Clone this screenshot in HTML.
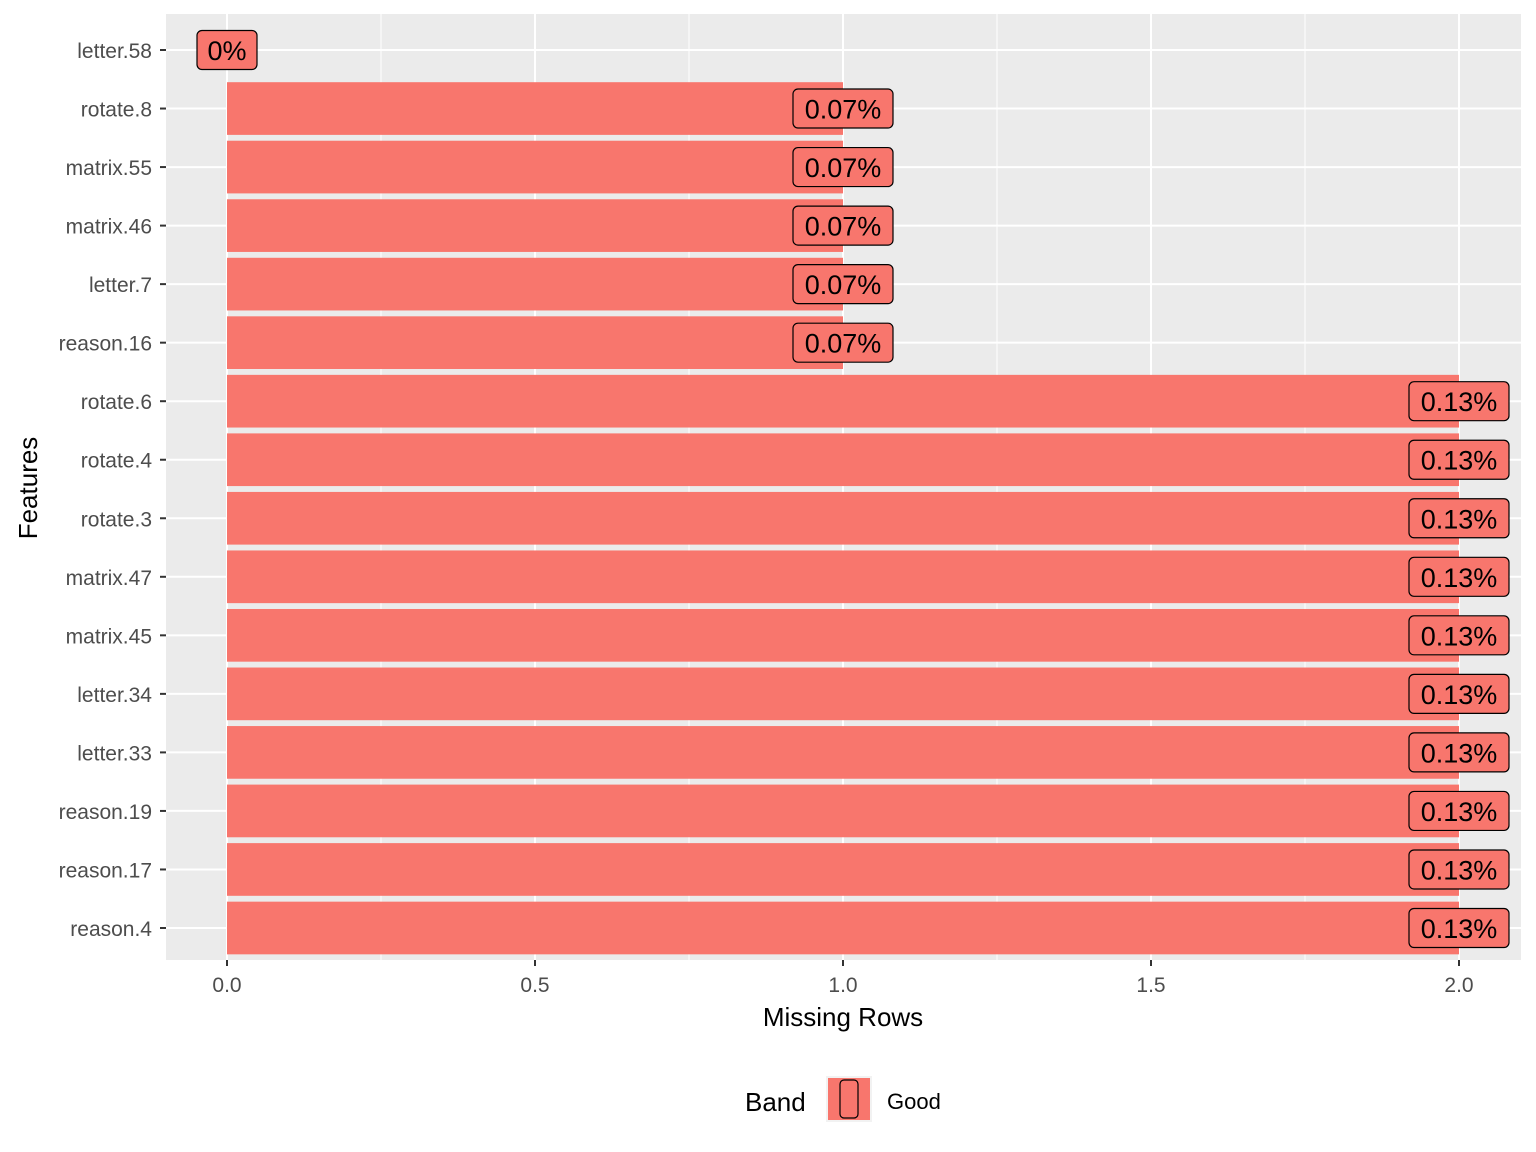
<!DOCTYPE html>
<html><head><meta charset="utf-8">
<style>
body{margin:0;background:#fff;}
svg{display:block;font-family:"Liberation Sans",Arial,sans-serif;}
</style></head>
<body>
<svg id="chart" width="1536" height="1152" viewBox="0 0 1536 1152" xmlns="http://www.w3.org/2000/svg">
<rect x="0" y="0" width="1536" height="1152" fill="#fff"/>
<rect x="166" y="14" width="1355" height="946" fill="#EBEBEB"/>
<g id="grid"></g>
<g id="bars"></g>
<g id="labels"></g>
<g id="yaxis"></g>
<g id="xaxis"></g>
<text x="843" y="1026" font-size="26" text-anchor="middle" fill="#000">Missing Rows</text>
<text transform="translate(37,488) rotate(-90)" font-size="26" text-anchor="middle" fill="#000">Features</text>
<g>
<text x="745" y="1111" font-size="26" fill="#000">Band</text>
<rect x="827" y="1077" width="44" height="44" fill="#F8766D" stroke="#F2F2F2" stroke-width="2"/>
<rect x="840" y="1080" width="18" height="38" rx="4" fill="#F8766D" stroke="#000" stroke-width="1.2"/>
<text x="887" y="1109" font-size="22" fill="#000">Good</text>
</g>
</svg>
<script>
const features = ["letter.58","rotate.8","matrix.55","matrix.46","letter.7","reason.16","rotate.6","rotate.4","rotate.3","matrix.47","matrix.45","letter.34","letter.33","reason.19","reason.17","reason.4"];
const missingRows = [0,1,1,1,1,1,2,2,2,2,2,2,2,2,2,2];
const pctLabels = ["0%","0.07%","0.07%","0.07%","0.07%","0.07%","0.13%","0.13%","0.13%","0.13%","0.13%","0.13%","0.13%","0.13%","0.13%","0.13%"];
const xTicks = [0,0.5,1,1.5,2];
const xTickLabels = ["0.0","0.5","1.0","1.5","2.0"];
const xMinor = [0.25,0.75,1.25,1.75];

const NS="http://www.w3.org/2000/svg";
const x = v => 227 + v*616;
const step = (928-50)/(features.length-1);
const y = i => 50 + i*step;
const bh = step*0.9;
function mk(tag, attrs, parent){const e=document.createElementNS(NS,tag);for(const k in attrs)e.setAttribute(k,attrs[k]);parent.appendChild(e);return e;}
const grid=document.getElementById('grid'),bars=document.getElementById('bars'),labels=document.getElementById('labels'),yaxis=document.getElementById('yaxis'),xaxis=document.getElementById('xaxis');
xMinor.forEach(v=>{const l=mk('line',{x1:x(v),x2:x(v),y1:14,y2:960,stroke:'#fff','stroke-width':1},grid);

});
xTicks.forEach((v,i)=>{const l=mk('line',{x1:x(v),x2:x(v),y1:14,y2:960,stroke:'#fff','stroke-width':2},grid);


const t=mk('line',{x1:x(v),x2:x(v),y1:960,y2:966,stroke:'#333','stroke-width':2},xaxis);


const tx=mk('text',{x:x(v),y:992,'font-size':21,'text-anchor':'middle',fill:'#4D4D4D'},xaxis);tx.textContent=xTickLabels[i];

});
features.forEach((f,i)=>{
const yy=y(i);
const g=mk('line',{x1:166,x2:1521,y1:yy,y2:yy,stroke:'#fff','stroke-width':2},grid);


const w=x(missingRows[i])-x(0);
const b=mk('rect',{x:x(0),y:yy-bh/2,width:w,height:bh,fill:'#F8766D'},bars);


const t=mk('line',{x1:160,x2:166,y1:yy,y2:yy,stroke:'#333','stroke-width':2},yaxis);


const tl=mk('text',{x:152,y:yy+8,'font-size':21,'text-anchor':'end',fill:'#4D4D4D'},yaxis);tl.textContent=f;


const lw=pctLabels[i].length>2?100:60;
const cx=x(missingRows[i]);
const lb=mk('rect',{x:cx-lw/2,y:yy-19.5,width:lw,height:39,rx:5,fill:'#F8766D',stroke:'#000','stroke-width':1.2},labels);


const lt=mk('text',{x:cx,y:yy+10,'font-size':27,'text-anchor':'middle',fill:'#000'},labels);lt.textContent=pctLabels[i];


});
</script>
</body></html>
